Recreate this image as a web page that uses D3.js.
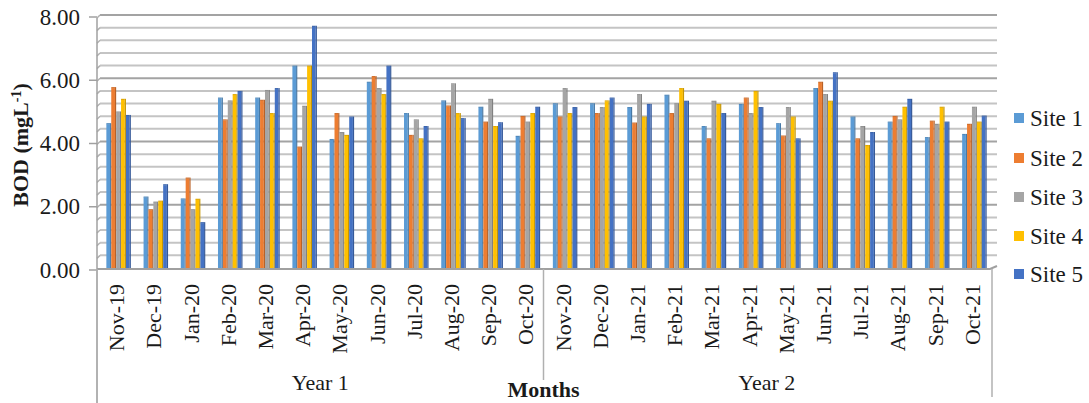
<!DOCTYPE html>
<html>
<head>
<meta charset="utf-8">
<script src="https://cdn.jsdelivr.net/npm/d3@7/dist/d3.min.js"></script>
<style>
  html, body { margin: 0; padding: 0; background: #fff; }
  svg { display: block; }
</style>
</head>
<body>
<svg id="chart" width="1089" height="403" font-family="'Liberation Serif', 'Times New Roman', serif" fill="#1a1a1a"></svg>
<script>
// Monthly BOD readings (mg/L) at five sampling sites
const months = ["Nov-19","Dec-19","Jan-20","Feb-20","Mar-20","Apr-20","May-20","Jun-20","Jul-20","Aug-20","Sep-20","Oct-20",
                "Nov-20","Dec-20","Jan-21","Feb-21","Mar-21","Apr-21","May-21","Jun-21","Jul-21","Aug-21","Sep-21","Oct-21"];
const years = ["Year 1", "Year 2"];
const sites = ["Site 1", "Site 2", "Site 3", "Site 4", "Site 5"];
const site1 = [4.58,2.26,2.20,5.39,5.39,6.40,4.08,5.89,4.90,5.30,5.10,4.18, 5.21,5.21,5.09,5.48,4.49,5.19,4.58,5.69,4.79,4.63,4.14,4.24];
const site2 = [5.72,1.86,2.86,4.70,5.32,3.84,4.90,6.07,4.21,5.14,4.63,4.81, 4.79,4.90,4.60,4.90,4.10,5.39,4.19,5.89,4.10,4.81,4.66,4.56];
const site3 = [4.95,2.10,1.86,5.30,5.63,5.13,4.30,5.69,4.70,5.84,5.35,4.63, 5.69,5.09,5.50,5.21,5.29,4.90,5.09,5.50,4.49,4.70,4.56,5.10];
const site4 = [5.35,2.13,2.19,5.50,4.90,6.40,4.21,5.50,4.10,4.90,4.49,4.90, 4.90,5.30,4.79,5.69,5.19,5.60,4.79,5.29,3.89,5.10,5.10,4.63];
const site5 = [4.84,2.65,1.45,5.60,5.69,7.66,4.79,6.40,4.49,4.74,4.61,5.10, 5.09,5.39,5.19,5.29,4.90,5.09,4.10,6.19,4.30,5.35,4.63,4.82];
const yTicks = [0, 2, 4, 6, 8];
const colors = ["#5B9BD5", "#ED7D31", "#A5A5A5", "#FFC000", "#4472C4"];

const seriesValues = [site1, site2, site3, site4, site5];

const svg = d3.select("#chart");

const left = 97, right = 990, floorY = 268, topY = 15;
const depthX = 3, depthY = 3;   // offset of the back wall

const x = d3.scaleBand().domain(months).range([left, right]).padding(0);
const y = d3.scaleLinear().domain([0, 8]).range([floorY, topY]);
const inner = d3.scaleBand().domain(sites).range([0, 24.5]).padding(0);

// Back wall gridlines: minor every 0.4, major every 2
const grid = svg.append("g");
const minorVals = d3.range(0, 8.0001, 0.4).map(v => +v.toFixed(1));
grid.selectAll("line.minor")
  .data(minorVals.filter(v => Math.abs(v / 2 - Math.round(v / 2)) > 1e-6))
  .join("line")
  .attr("x1", left + depthX).attr("x2", right + 7)
  .attr("y1", d => y(d)).attr("y2", d => y(d))
  .attr("stroke", "#c4c4c4").attr("stroke-width", 2);
grid.selectAll("line.major")
  .data(yTicks.filter(v => v > 0))
  .join("line")
  .attr("x1", left + depthX).attr("x2", right + 7)
  .attr("y1", d => y(d)).attr("y2", d => y(d))
  .attr("stroke", "#a3a3a3").attr("stroke-width", 2);
// small side-wall connectors at the left edge
grid.selectAll("line.side")
  .data(minorVals.filter(v => v > 0))
  .join("line")
  .attr("x1", left).attr("x2", left + depthX)
  .attr("y1", d => y(d) + depthY).attr("y2", d => y(d))
  .attr("stroke", "#b0b0b0").attr("stroke-width", 1.5);

// Floor
svg.append("path")
  .attr("d", `M${left},${floorY + 1}L${right},${floorY + 1}L${right + 7},${floorY - 2}`)
  .attr("fill", "none").attr("stroke", "#a0a0a0").attr("stroke-width", 2);

// Bars drawn with a shaded side and top for a shallow 3D look
const shade = c => d3.color(c).darker(0.7).formatHex();
const bars = svg.append("g");
months.forEach((m, i) => {
  const gx = x(m) + (x.bandwidth() - inner.range()[1]) / 2 + 3;
  seriesValues.forEach((vals, s) => {
    const v = vals[i];
    const bx = gx + inner(sites[s]);
    const bw = inner.bandwidth();
    const top = y(v);
    bars.append("rect")
      .attr("x", bx).attr("y", top + 1)
      .attr("width", bw - 1.2).attr("height", floorY - top - 1)
      .attr("fill", colors[s]);
    bars.append("rect")
      .attr("x", bx + bw - 1.2).attr("y", top)
      .attr("width", 1.2).attr("height", floorY - top)
      .attr("fill", shade(colors[s]));
    bars.append("rect")
      .attr("x", bx).attr("y", top)
      .attr("width", bw - 1.2).attr("height", 1.2)
      .attr("fill", d3.color(colors[s]).darker(0.35).formatHex());
  });
});

// Value axis
const yAxisG = svg.append("g");
yAxisG.append("line")
  .attr("x1", left).attr("x2", left)
  .attr("y1", y(8) + depthY).attr("y2", 403)
  .attr("stroke", "#a0a0a0").attr("stroke-width", 1.5);
yAxisG.selectAll("line.tick")
  .data(yTicks).join("line")
  .attr("x1", left - 8).attr("x2", left)
  .attr("y1", d => y(d) + depthY - 1).attr("y2", d => y(d) + depthY - 1)
  .attr("stroke", "#a0a0a0").attr("stroke-width", 1.5);
yAxisG.selectAll("text")
  .data(yTicks).join("text")
  .attr("x", 80).attr("y", d => y(d) + 2)
  .attr("text-anchor", "end").attr("dominant-baseline", "central")
  .attr("font-size", 23)
  .text(d => d3.format(".2f")(d));

// Category axis: month labels and year groups
const catG = svg.append("g");
catG.selectAll("text.month")
  .data(months).join("text")
  .attr("transform", d => `translate(${x(d) + x.bandwidth() / 2 + 1},284) rotate(-90)`)
  .attr("text-anchor", "end").attr("dominant-baseline", "central")
  .attr("font-size", 22)
  .text(d => d);

const dividers = [
  { xv: left, y2: 403 },
  { xv: x(months[12]), y2: 380 },
  { xv: right + 2, y2: 397 }
];
catG.selectAll("line.div")
  .data(dividers).join("line")
  .attr("x1", d => d.xv).attr("x2", d => d.xv)
  .attr("y1", floorY + 1).attr("y2", d => d.y2)
  .attr("stroke", "#b0b0b0").attr("stroke-width", 1.5);

catG.selectAll("text.year")
  .data(years).join("text")
  .attr("x", (d, i) => (x(months[i * 12]) + x(months[i * 12 + 11]) + x.bandwidth()) / 2)
  .attr("y", 390)
  .attr("text-anchor", "middle")
  .attr("font-size", 22)
  .text(d => d);

// Axis titles
svg.append("text")
  .attr("x", x(months[12])).attr("y", 397)
  .attr("text-anchor", "middle")
  .attr("font-size", 22).attr("font-weight", "bold")
  .text("Months");

const yTitle = svg.append("text")
  .attr("transform", `translate(28,145) rotate(-90)`)
  .attr("text-anchor", "middle")
  .attr("font-size", 22).attr("font-weight", "bold");
yTitle.append("tspan").text("BOD (mgL");
yTitle.append("tspan").attr("font-size", 14).attr("baseline-shift", "super").text("-1");
yTitle.append("tspan").text(")");

// Legend
const legend = svg.append("g");
const legendY = [118, 158, 197, 236, 274];
sites.forEach((s, i) => {
  legend.append("rect")
    .attr("x", 1014).attr("y", legendY[i] - 5)
    .attr("width", 10).attr("height", 10)
    .attr("fill", colors[i]);
  legend.append("text")
    .attr("x", 1030).attr("y", legendY[i])
    .attr("dominant-baseline", "central")
    .attr("font-size", 23)
    .text(s);
});
</script>
</body>
</html>
